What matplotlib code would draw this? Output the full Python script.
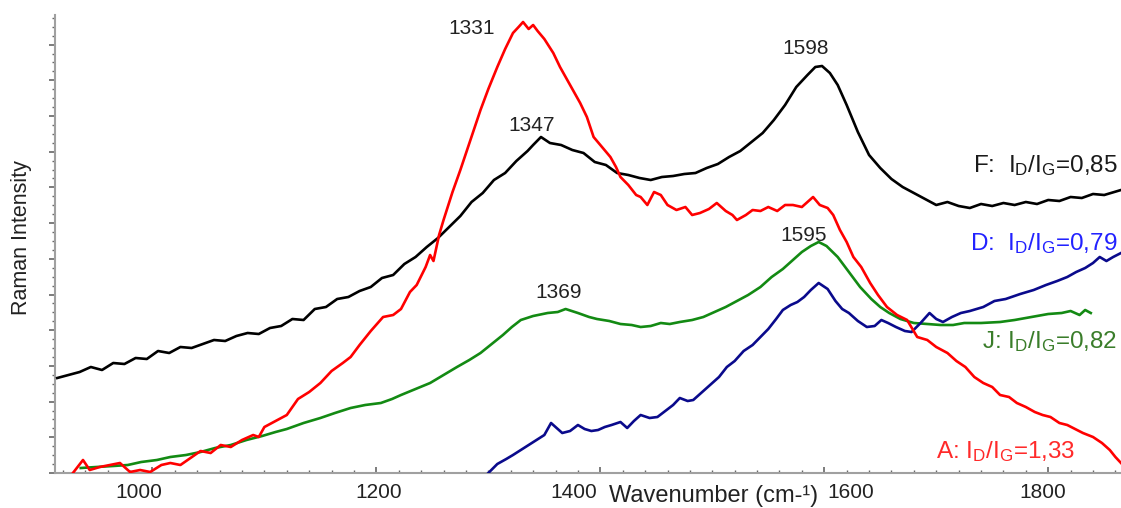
import numpy as np
import matplotlib
matplotlib.use("Agg")
import matplotlib.pyplot as plt
from matplotlib.ticker import MultipleLocator, FixedLocator
from matplotlib.transforms import offset_copy

plt.rcParams['font.family'] = ['Liberation Sans', 'DejaVu Sans']
plt.rcParams['mathtext.fontset'] = 'custom'
plt.rcParams['mathtext.rm'] = 'Liberation Sans'
plt.rcParams['mathtext.it'] = 'Liberation Sans:italic'
plt.rcParams['mathtext.bf'] = 'Liberation Sans:bold'

# ---- Raman spectra (wavenumber in cm-1, intensity in arbitrary units) ----
f_wn = [915, 925, 935, 945, 955, 965, 975, 985, 995, 1005, 1015, 1025, 1035, 1045, 1055,
        1065, 1075, 1085, 1095, 1105, 1115, 1125, 1135, 1145, 1155, 1165, 1175, 1185, 1195,
        1205, 1215, 1225, 1235, 1245, 1255, 1265, 1275, 1285, 1295, 1305, 1315, 1325, 1335,
        1340, 1347, 1355, 1365, 1375, 1385, 1395, 1405, 1415, 1425, 1435, 1445, 1455, 1465,
        1475, 1485, 1495, 1505, 1515, 1525, 1535, 1545, 1555, 1565, 1575, 1585, 1592, 1598,
        1605, 1612, 1620, 1630, 1640, 1650, 1660, 1670, 1680, 1690, 1700, 1710, 1720, 1730,
        1740, 1750, 1760, 1770, 1780, 1790, 1800, 1810, 1820, 1830, 1840, 1850, 1865]
f_int = [89, 92, 95, 100, 97, 104, 103, 109, 108, 116, 114, 120, 119, 123, 127,
         126, 131, 134, 133, 139, 141, 148, 147, 158, 160, 168, 170, 176, 180,
         189, 192, 203, 210, 220, 229, 240, 251, 265, 274, 287, 294, 306, 316,
         322, 330, 324, 322, 317, 314, 305, 302, 294, 292, 289, 287, 290, 291,
         293, 294, 299, 303, 310, 316, 325, 334, 347, 362, 380, 392, 400, 401,
         394, 382, 362, 335, 312, 299, 288, 280, 274, 268, 262, 265, 261, 259,
         263, 261, 264, 262, 265, 263, 267, 266, 270, 269, 273, 272, 277]

a_wn = [929, 938, 944, 953, 962, 971, 980, 989, 998, 1008, 1016, 1025, 1034, 1043, 1052,
        1061, 1070, 1080, 1090, 1095, 1100, 1110, 1120, 1130, 1140, 1150, 1160, 1170, 1177,
        1185, 1195, 1206, 1215, 1222, 1230, 1236, 1244, 1248, 1251, 1256, 1260, 1268, 1275,
        1284, 1293, 1300, 1308, 1315, 1322, 1327, 1331, 1336, 1340, 1344, 1350, 1358, 1364,
        1370, 1376, 1382, 1388, 1394, 1400, 1409, 1414, 1418, 1425, 1432, 1436, 1442, 1448,
        1454, 1460, 1468, 1476, 1482, 1489, 1497, 1504, 1512, 1518, 1522, 1530, 1536, 1543,
        1550, 1558, 1565, 1572, 1580, 1586, 1590, 1596, 1603, 1608, 1614, 1620, 1626, 1633,
        1641, 1648, 1656, 1665, 1674, 1683, 1692, 1700, 1710, 1718, 1726, 1734, 1742, 1750,
        1757, 1765, 1772, 1780, 1788, 1795, 1802, 1810, 1817, 1824, 1831, 1840, 1848, 1855,
        1860, 1865]
a_int = [-6, 7, -3, 0, 2, 4, -5, -3, -5, 2, 4, 2, 9, 16, 14,
         22, 20, 27, 32, 30, 40, 46, 52, 68, 75, 84, 96, 104, 110,
         122, 136, 150, 152, 158, 175, 182, 200, 212, 206, 232, 247, 275, 297,
         327, 357, 378, 400, 418, 434, 440, 445, 438, 442, 436, 428, 414, 400,
         388, 376, 364, 350, 330, 322, 310, 300, 290, 282, 272, 270, 262, 275,
         272, 262, 257, 260, 252, 254, 258, 264, 256, 252, 247, 252, 257, 256,
         260, 256, 262, 262, 260, 266, 270, 262, 259, 252, 237, 225, 210, 200,
         184, 172, 160, 152, 147, 130, 127, 120, 114, 106, 100, 90, 84, 80,
         72, 70, 64, 60, 55, 52, 50, 44, 42, 38, 34, 30, 24, 17,
         10, 4]

j_wn = [936, 950, 965, 978, 990, 1004, 1016, 1030, 1043, 1056, 1070, 1084, 1098, 1110,
        1120, 1135, 1150, 1163, 1177, 1190, 1204, 1214, 1222, 1235, 1248, 1260, 1272, 1283,
        1293, 1303, 1313, 1321, 1329, 1340, 1353, 1362, 1369, 1380, 1390, 1397, 1408, 1418,
        1428, 1436, 1445, 1454, 1462, 1471, 1482, 1492, 1502, 1512, 1522, 1532, 1543, 1553,
        1563, 1572, 1580, 1588, 1595, 1602, 1612, 1622, 1632, 1642, 1650, 1658, 1668, 1680,
        1692, 1704, 1715, 1725, 1740, 1757, 1770, 1785, 1800, 1812, 1820, 1828, 1833, 1838]
j_int = [-1, 0, 1, 2, 5, 7, 10, 12, 15, 19, 22, 27, 31, 35,
         38, 44, 49, 54, 59, 62, 64, 68, 72, 78, 84, 92, 100, 107,
         114, 123, 132, 140, 147, 151, 154, 155, 158, 154, 150, 148, 146, 143,
         142, 140, 141, 144, 143, 145, 147, 150, 155, 160, 166, 172, 180, 190,
         198, 207, 215, 221, 225, 221, 210, 195, 180, 168, 160, 154, 148, 144,
         143, 142, 142, 144, 144, 145, 147, 150, 153, 154, 156, 152, 157, 154]

d_wn = [1300, 1308, 1316, 1322, 1329, 1336, 1343, 1350, 1356, 1360, 1366, 1373, 1380, 1386,
        1392, 1398, 1404, 1410, 1418, 1424, 1430, 1436, 1444, 1451, 1458, 1465, 1471, 1478,
        1483, 1490, 1498, 1506, 1513, 1520, 1528, 1536, 1543, 1550, 1557, 1563, 1570, 1576,
        1582, 1588, 1595, 1603, 1610, 1616, 1622, 1630, 1638, 1645, 1651, 1657, 1664, 1672,
        1678, 1686, 1694, 1700, 1706, 1714, 1722, 1730, 1742, 1752, 1762, 1775, 1787, 1798,
        1808, 1817, 1825, 1833, 1840, 1846, 1852, 1858, 1865]
d_int = [-6, 3, 8, 12, 17, 22, 27, 32, 44, 40, 34, 36, 42, 38,
         36, 37, 40, 42, 45, 39, 46, 52, 49, 50, 56, 62, 69, 66,
         67, 74, 82, 90, 100, 106, 116, 122, 130, 138, 148, 157, 162, 165,
         170, 177, 184, 178, 166, 158, 154, 146, 140, 141, 147, 144, 140, 136,
         135, 144, 154, 148, 145, 150, 154, 156, 160, 166, 168, 173, 177, 182,
         186, 190, 195, 199, 204, 210, 206, 210, 214]

# peak positions (wavenumber, intensity at the top of the band)
peak_labels = ['1331', '1347', '1598', '1369', '1595']
peak_wn = [1331, 1347, 1598, 1369, 1595]
peak_int = [445, 330, 401, 158, 225]

ratio_labels = [r'F:  I$_{\mathregular{D}}$/I$_{\mathregular{G}}$=0,85',
                r'D:  I$_{\mathregular{D}}$/I$_{\mathregular{G}}$=0,79',
                r'J: I$_{\mathregular{D}}$/I$_{\mathregular{G}}$=0,82',
                r'A: I$_{\mathregular{D}}$/I$_{\mathregular{G}}$=1,33']

x_ticks = [1000, 1200, 1400, 1600, 1800]
x_ticklabels = ['1000', '1200', '1400', '1600', '1800']

C_BLACK = '#000000'
C_RED = '#ff0000'
C_GREEN = '#138a13'
C_BLUE = '#0a0a8c'
C_TEXT = '#222222'

fig = plt.figure(figsize=(11.21, 5.08), dpi=100)
ax = fig.add_axes([55 / 1121, 1 - 473 / 508, 1 - 55 / 1121, 458 / 508])

lw = 1.9
ax.plot(j_wn, j_int, color=C_GREEN, lw=lw, zorder=2)
ax.plot(f_wn, f_int, color=C_BLACK, lw=lw, zorder=3)
ax.plot(d_wn, d_int, color=C_BLUE, lw=lw, zorder=4)
ax.plot(a_wn, a_int, color=C_RED, lw=lw, zorder=5)

ax.set_xlim(913, 1865)
ax.set_ylim(-6, 452)

# peak annotations, placed relative to the band maxima
offsets = [(-46, -6), (-8, 12), (-15, 18), (-6, 16), (-13, 7)]
for lab, w, i, (dx, dy) in zip(peak_labels, peak_wn, peak_int, offsets):
    ax.text(w + dx, i + dy, lab, fontsize=15, color=C_TEXT, ha='center', va='center')

# intensity-ratio labels on the right
ratio_pos = [(1862, 295, '#1a1a1a'),
             (1862, 217, '#2222ff'),
             (1862, 119, '#3a7d2a'),
             (1824, 9, '#ff2a2a')]
for lab, (x, y, c) in zip(ratio_labels, ratio_pos):
    ax.text(x, y, lab, fontsize=17.5, color=c, ha='right', va='baseline')

# axes styling
for s in ['top', 'right']:
    ax.spines[s].set_visible(False)
for s in ['left', 'bottom']:
    ax.spines[s].set_color('#a0a0a0')
    ax.spines[s].set_linewidth(1.5)

# tick labels drawn as text so a few can be nudged sideways (around the axis title)
shift_px = {'1000': -14, '1200': 2, '1400': -27, '1600': 26, '1800': -5}
ax.set_xticks(x_ticks, labels=['' for _ in x_ticklabels])
ax.xaxis.set_minor_locator(MultipleLocator(20))
ax.tick_params(axis='x', which='major', direction='in', length=4, width=1.2,
               color='#666666')
ax.tick_params(axis='x', which='minor', direction='in', length=2.5, width=1.0, color='#666666')
for val, lab in zip(x_ticks, x_ticklabels):
    tr = offset_copy(ax.get_xaxis_transform(), fig=fig, x=shift_px[lab] * 0.72, y=0,
                     units='points')
    ax.text(val, -0.0546, lab, transform=tr, fontsize=15, color=C_TEXT,
            ha='center', va='baseline')

ax.yaxis.set_major_locator(FixedLocator(np.arange(-6, 452, 35.7)))
ax.yaxis.set_minor_locator(FixedLocator(np.arange(-6, 452, 8.925)))
ax.tick_params(axis='y', which='major', direction='out', length=4, width=1.2,
               color='#666666', labelleft=False)
ax.tick_params(axis='y', which='minor', direction='out', length=2, width=1.0, color='#666666')

ax.text(0.6175, -0.063, 'Wavenumber (cm-\u00b9)', transform=ax.transAxes, fontsize=17,
        color=C_TEXT, ha='center', va='baseline')
ax.text(-0.031, 0.513, 'Raman Intensity', transform=ax.transAxes, fontsize=15.5,
        color=C_TEXT, ha='center', va='center', rotation=90)

fig.savefig('out.png', dpi=100)
